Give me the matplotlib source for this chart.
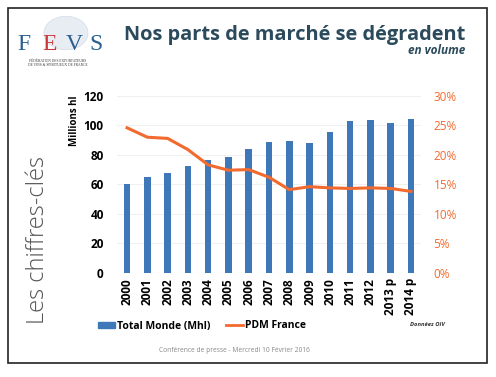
import numpy as np
import matplotlib.pyplot as plt
from matplotlib.patches import Rectangle, Circle
from matplotlib.lines import Line2D

years = ["2000", "2001", "2002", "2003", "2004", "2005", "2006", "2007",
         "2008", "2009", "2010", "2011", "2012", "2013 p", "2014 p"]
total_monde = [60.0, 64.8, 67.5, 72.3, 76.6, 78.8, 84.2, 88.8,
               89.5, 88.3, 95.8, 102.8, 103.7, 101.9, 104.2]
pdm_france = [24.6, 23.0, 22.8, 20.9, 18.3, 17.4, 17.5, 16.2,
              14.1, 14.6, 14.4, 14.3, 14.4, 14.3, 13.8]

blue = "#3f78b8"
orange = "#f26a2e"
title_col = "#2b4a5c"

fig = plt.figure(figsize=(4.96, 3.77), dpi=100)
fig.patch.set_facecolor("white")

# slide frame
fig.add_artist(Rectangle((8 / 496, 1 - 363 / 377), 479 / 496, 355 / 377,
                         transform=fig.transFigure, fill=False,
                         edgecolor="#222222", linewidth=1.2))

# logo
fig.add_artist(Circle((66 / 496, 1 - 33 / 377), 22 / 496, transform=fig.transFigure,
                      facecolor="#e8edf4", edgecolor="#d3dbe6", linewidth=0.5))
for letter, x, col in [("F", 24, "#2a5f8f"), ("E", 50, "#c9373a"),
                       ("V", 74, "#2a5f8f"), ("S", 96, "#2a5f8f")]:
    fig.text(x / 496, 1 - 44 / 377, letter, fontsize=17, family="Liberation Serif",
             color=col, ha="center", va="center")
fig.text(58 / 496, 1 - 61 / 377, "FÉDÉRATION DES EXPORTATEURS", fontsize=2.6,
         family="Liberation Serif", color="#333333", ha="center", va="center")
fig.text(58 / 496, 1 - 65 / 377, "DE VINS & SPIRITUEUX DE FRANCE", fontsize=2.6,
         family="Liberation Serif", color="#333333", ha="center", va="center")

# title
fig.text(465 / 496, 1 - 35 / 377, "Nos parts de marché se dégradent", fontsize=14.4,
         family="Open Sans", weight="bold", color=title_col, ha="right", va="center")
fig.text(465 / 496, 1 - 51 / 377, "en volume", fontsize=8.5, family="Open Sans",
         weight="bold", style="italic", color=title_col, ha="right", va="center")

# side label
fig.text(38 / 496, 1 - 240 / 377, "Les chiffres-clés", fontsize=17, family="Open Sans",
         weight="light", color="#555555", rotation=90, ha="center", va="center")

ax = fig.add_axes([0.2357, 0.2767, 0.6133, 0.4687])
x = np.arange(len(years))
ax.bar(x, total_monde, width=0.32, color=blue, zorder=2)
ax.set_xlim(-0.5, len(years) - 0.5)
ax.set_ylim(0, 120)
ax.set_yticks(np.arange(0, 121, 20))
ax.set_xticks(x)
ax.set_xticklabels(years, rotation=90, fontsize=8.5, weight="bold", family="Open Sans")
for lbl in ax.get_yticklabels():
    lbl.set_fontsize(8.5)
    lbl.set_weight("bold")
    lbl.set_family("Open Sans")
ax.tick_params(length=0, pad=9.5, axis="y")
ax.tick_params(length=0, pad=4, axis="x")
ax.grid(axis="y", color="#eeeeee", linewidth=0.6, zorder=0)
for s in ax.spines.values():
    s.set_visible(False)
ax.axhline(0, color="#e4e4e4", linewidth=0.8, zorder=1)
ax.set_ylabel("Millions hl", fontsize=7, weight="bold", family="Open Sans")
ax.yaxis.set_label_coords(-0.12, 0.86)

ax2 = ax.twinx()
ax2.plot(x, pdm_france, color=orange, linewidth=2.2, zorder=3)
ax2.set_ylim(0, 30)
ax2.set_yticks(np.arange(0, 31, 5))
ax2.set_yticklabels([f"{v}%" for v in range(0, 31, 5)], color=orange,
                    fontsize=8.5, family="Open Sans")
ax2.tick_params(length=0, pad=9)
for s in ax2.spines.values():
    s.set_visible(False)

# legend
handles = [Rectangle((0, 0), 1, 1, color=blue),
           Line2D([0], [0], color=orange, linewidth=2)]
fig.legend(handles, ["Total Monde (Mhl)", "PDM France"], loc="center",
           bbox_to_anchor=(202 / 496, 1 - 326 / 377), ncol=2, frameon=False,
           prop={"family": "Open Sans", "weight": "bold", "size": 7.5},
           handlelength=1.6, handleheight=0.6, columnspacing=1.5, handletextpad=0.2)

fig.text(427 / 496, 1 - 325 / 377, "Données OIV", fontsize=4.2, family="Open Sans",
         weight="bold", style="italic", color="#333333", ha="center", va="center")
fig.text(234 / 496, 1 - 350 / 377, "Conférence de presse - Mercredi 10 Février 2016",
         fontsize=4.8, family="Open Sans", color="#888888", ha="center", va="center")

fig.savefig("out.png", dpi=100, facecolor="white")
